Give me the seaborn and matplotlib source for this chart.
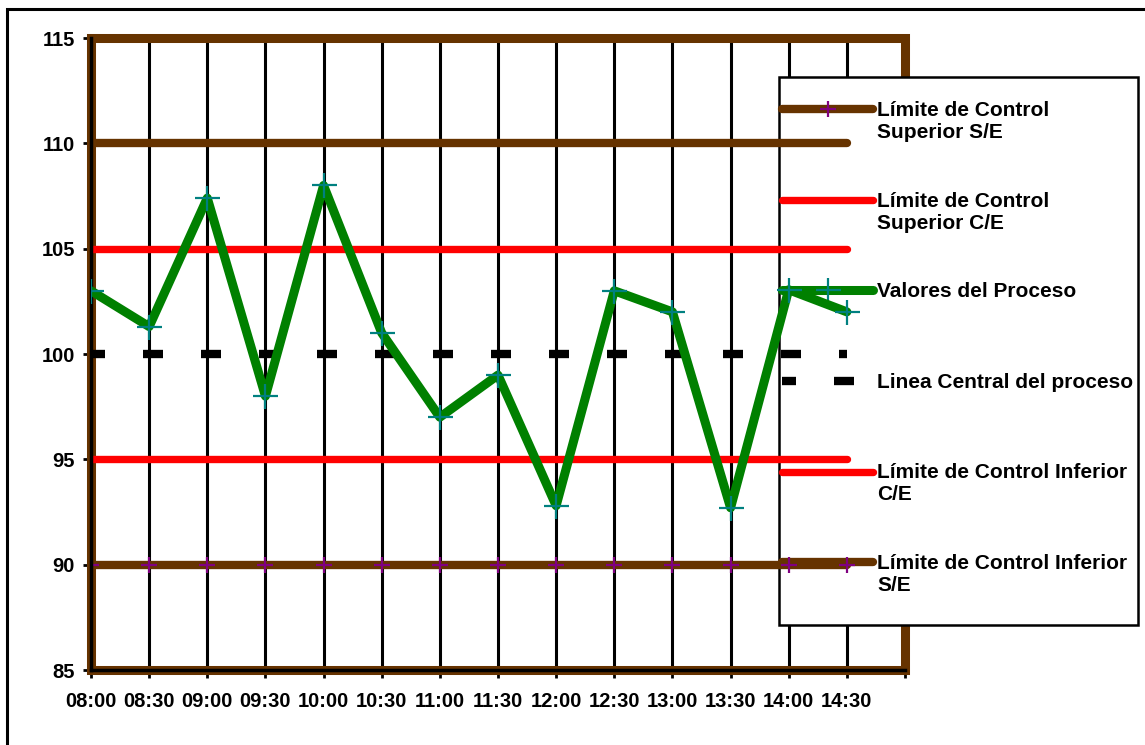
import matplotlib
matplotlib.use('Agg')
import matplotlib.pyplot as plt
from matplotlib.patches import Rectangle
from matplotlib.lines import Line2D
from matplotlib.legend_handler import HandlerLine2D
import seaborn as sns
import pandas as pd

# datos del grafico de control
horas = ['08:00', '08:30', '09:00', '09:30', '10:00', '10:30', '11:00',
         '11:30', '12:00', '12:30', '13:00', '13:30', '14:00', '14:30']
valores = [103.0, 101.3, 107.4, 98.0, 108.0, 101.0, 97.0,
           99.0, 92.8, 103.0, 102.0, 92.7, 103.05, 102.0]
lcs_se = 110
lcs_ce = 105
linea_central = 100
lci_ce = 95
lci_se = 90
ticks_y = [85, 90, 95, 100, 105, 110, 115]

etiquetas = ['Límite de Control\nSuperior S/E',
             'Límite de Control\nSuperior C/E',
             'Valores del Proceso\n ',
             'Linea Central del proceso\n ',
             'Límite de Control Inferior\nC/E',
             'Límite de Control Inferior\nS/E']

MARRON = '#663300'
ROJO = '#ff0000'
VERDE = '#008000'
TEAL = '#008080'
MORADO = '#800080'

sns.set_style('white')
plt.rcParams['font.family'] = ['Liberation Sans', 'DejaVu Sans']
plt.rcParams['font.weight'] = 'bold'
plt.rcParams['text.color'] = 'black'
plt.rcParams['xtick.color'] = 'black'
plt.rcParams['ytick.color'] = 'black'

df = pd.DataFrame({'hora': horas, 'pos': range(len(horas)), 'valor': valores})
n = len(horas)
pos = list(range(n))

fig = plt.figure(figsize=(11.45, 7.45), dpi=100)
ax = fig.add_axes([91 / 1145, 75 / 745, 814 / 1145, 632 / 745])

# marco del area de trazado
ax.add_patch(Rectangle((0, 85), n, 30, fill=False, ec=MARRON, lw=6.5, zorder=1, clip_on=False))

kw = dict(solid_capstyle='round', zorder=2)
ax.plot(pos, [lcs_se] * n, color=MARRON, lw=6, **kw)
ax.plot(pos, [lcs_ce] * n, color=ROJO, lw=5.3, **kw)
ax.plot(pos, [linea_central] * n, color='black', lw=6, linestyle=(0.72, (2.4, 4.56)),
        dash_capstyle='butt', zorder=2)
ax.plot(pos, [lci_ce] * n, color=ROJO, lw=5.3, **kw)
ax.plot(pos, [lci_se] * n, color=MARRON, lw=6, marker='+', ms=11.5, mec=MORADO, mew=1.6, **kw)

sns.lineplot(data=df, x='pos', y='valor', ax=ax, color=VERDE, lw=6.5,
             marker='+', markersize=18, mec=TEAL, mew=1.6, zorder=3,
             solid_joinstyle='round', solid_capstyle='round')

ax.set_xlim(0, n)
ax.set_ylim(85, 115)
ax.set_xticks(range(n + 1))
ax.set_xticklabels(horas + [''])
ax.set_yticks(ticks_y)
ax.set_xlabel('')
ax.set_ylabel('')
ax.tick_params(axis='both', direction='out', length=5.5, width=2, color='black',
               labelcolor='black', labelsize=14.5, bottom=True, left=True)
ax.tick_params(axis='x', pad=10)
ax.tick_params(axis='y', pad=6)
ax.grid(axis='x', color='black', lw=2.2)
ax.grid(axis='y', visible=False)
ax.set_axisbelow(True)
for s in ['top', 'right']:
    ax.spines[s].set_visible(False)
for s in ['left', 'bottom']:
    ax.spines[s].set_color('black')
    ax.spines[s].set_linewidth(2.5)


class HandlerArriba(HandlerLine2D):
    def create_artists(self, legend, orig_handle, xdescent, ydescent, width, height, fontsize, trans):
        artistas = super().create_artists(legend, orig_handle, xdescent, ydescent,
                                          width, height, fontsize, trans)
        for a in artistas:
            a.set_ydata([y + 0.6 * fontsize for y in a.get_ydata()])
        return artistas


handles = [
    Line2D([], [], color=MARRON, lw=6, marker='+', ms=11.5, mec=MORADO, mew=1.6, solid_capstyle='round'),
    Line2D([], [], color=ROJO, lw=5.3, solid_capstyle='round'),
    Line2D([], [], color=VERDE, lw=6.5, marker='+', ms=18, mec=TEAL, mew=1.6, solid_capstyle='round'),
    Line2D([], [], color='black', lw=6, linestyle=(0.72, (2.4, 4.56)), dash_capstyle='butt'),
    Line2D([], [], color=ROJO, lw=5.3, solid_capstyle='round'),
    Line2D([], [], color=MARRON, lw=6, solid_capstyle='round'),
]

# caja de la leyenda (debajo de las series, encima de la cuadricula)
caja = Rectangle((779 / 1145, 1 - 625 / 745), (1138 - 779) / 1145, (625 - 77) / 745,
                 transform=fig.transFigure, fc='white', ec='black', lw=1.8, zorder=1.5, clip_on=False)
ax.add_artist(caja)

leg = ax.legend(handles, etiquetas, loc='upper left', bbox_to_anchor=(782 / 1145, 1 - 101 / 745),
                bbox_transform=fig.transFigure, frameon=False, fontsize=15,
                handlelength=4.37, handletextpad=0.2, labelspacing=2.38,
                borderpad=0, borderaxespad=0, numpoints=1,
                handler_map={Line2D: HandlerArriba(numpoints=1)})
leg.set_zorder(1.6)

# borde del grafico
fig.add_artist(Rectangle((7 / 1145, -0.1), 1.2, 1.1 - 9 / 745, transform=fig.transFigure,
                         fill=False, ec='black', lw=2.2))

fig.savefig('out.png', dpi=100)
